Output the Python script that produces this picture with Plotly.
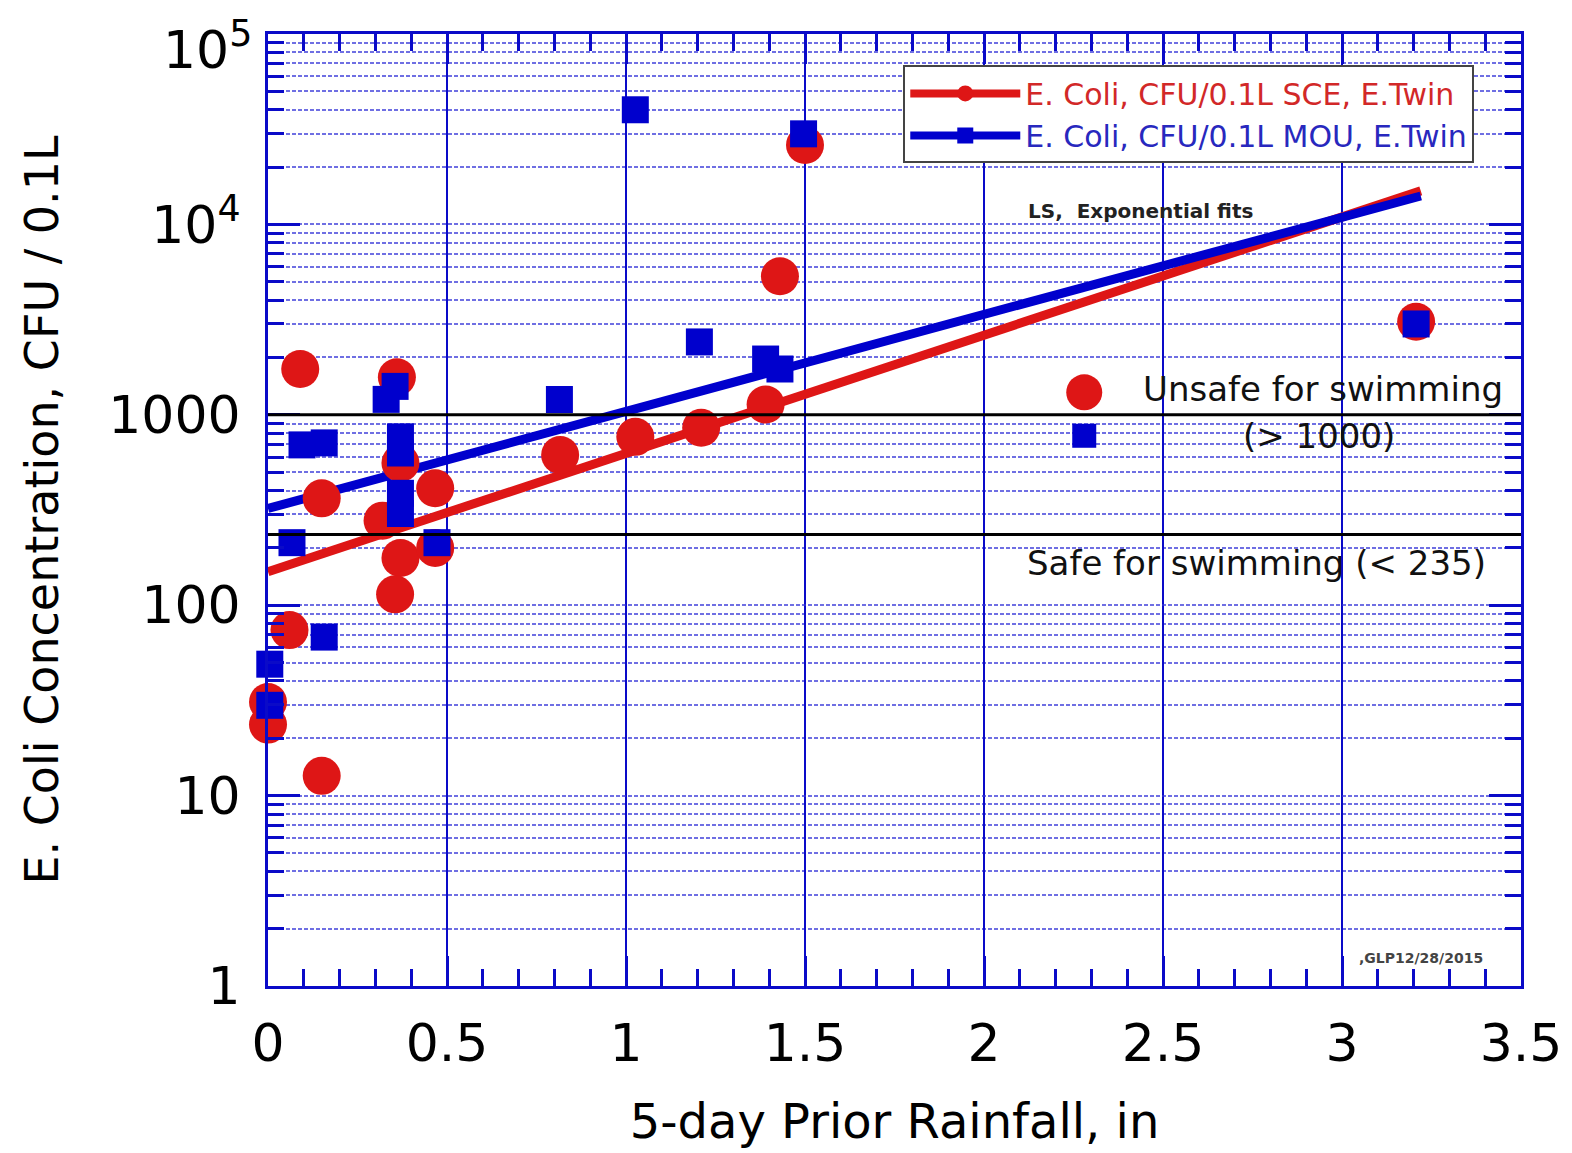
import plotly.graph_objects as go

# ---------------- data ----------------
sce_x = [0.0, 0.0, 0.06, 0.09, 0.15, 0.15, 0.36, 0.32, 0.37, 0.37, 0.355, 0.467, 0.467,
         0.816, 1.026, 1.21, 1.39, 1.43, 1.50, 3.207]
sce_y = [31, 23.6, 74, 1740, 364, 12.7, 1575, 278, 558, 177, 114, 411, 200,
         615, 766, 855, 1133, 5340, 26100, 3080]

mou_x = [0.005, 0.005, 0.067, 0.095, 0.157, 0.157, 0.33, 0.355, 0.37, 0.37, 0.37, 0.37,
         0.472, 0.814, 1.026, 1.205, 1.39, 1.43, 1.496, 3.207]
mou_y = [49, 29.8, 213, 695, 712, 68, 1205, 1410, 766, 630, 387, 303,
         213, 1203, 40000, 2414, 1963, 1740, 29900, 3000]

fit_x = [0.0, 3.22]
sce_fit_y = [150, 15000]
mou_fit_y = [322, 14100]

thresholds = [1000, 235]

key_x = [2.28, 2.28]
key_y = [1312, 776]

y_major = [1, 10, 100, 1000, 10000, 100000]
y_major_text = ["1", "10", "100", "1000", "10<sup>4</sup>", ""]
y_top_label = "10<sup>5</sup>"
y_minor = [m * d for d in [1, 10, 100, 1000, 10000] for m in range(2, 10)]

RED = "rgb(222,22,22)"
BLUE = "rgb(0,0,205)"
AX = "rgb(10,10,200)"
GRID = "rgba(50,50,215,0.7)"
FONT = "DejaVu Sans"

fig = go.Figure()

fig.add_trace(go.Scatter(x=fit_x, y=sce_fit_y, mode="lines",
                         line=dict(color=RED, width=9), showlegend=False, hoverinfo="skip"))
fig.add_trace(go.Scatter(x=fit_x, y=mou_fit_y, mode="lines",
                         line=dict(color=BLUE, width=9), showlegend=False, hoverinfo="skip"))
fig.add_trace(go.Scatter(x=sce_x, y=sce_y, mode="markers", cliponaxis=False,
                         marker=dict(symbol="circle", size=38, color=RED),
                         showlegend=False))
fig.add_trace(go.Scatter(x=mou_x, y=mou_y, mode="markers", cliponaxis=False,
                         marker=dict(symbol="square", size=27, color=BLUE),
                         showlegend=False))
fig.add_trace(go.Scatter(x=key_x[:1], y=key_y[:1], mode="markers",
                         marker=dict(symbol="circle", size=36, color=RED), showlegend=False))
fig.add_trace(go.Scatter(x=key_x[1:], y=key_y[1:], mode="markers",
                         marker=dict(symbol="square", size=24, color=BLUE), showlegend=False))

# legend entries
fig.add_trace(go.Scatter(x=[None], y=[None], mode="lines+markers",
                         name="<span style='color:rgb(210,40,40)'>E. Coli, CFU/0.1L SCE, E.Twin</span>",
                         line=dict(color=RED, width=8),
                         marker=dict(symbol="circle", size=30, color=RED)))
fig.add_trace(go.Scatter(x=[None], y=[None], mode="lines+markers",
                         name="<span style='color:rgb(40,40,190)'>E. Coli, CFU/0.1L MOU, E.Twin</span>",
                         line=dict(color=BLUE, width=8),
                         marker=dict(symbol="square", size=22, color=BLUE)))

for t in thresholds:
    fig.add_hline(y=t, line=dict(color="black", width=3), layer="above")

fig.add_annotation(xref="paper", x=0, y=5, text=y_top_label, showarrow=False,
                   xanchor="right", yanchor="middle", xshift=-14, yshift=-12,
                   font=dict(family=FONT, size=52, color="black"))
fig.add_annotation(x=2.438, y=4.072, text="<b>LS,  Exponential fits</b>",
                   showarrow=False, font=dict(family=FONT, size=20, color="#222"))
fig.add_annotation(x=2.947, y=3.134, text="Unsafe for swimming",
                   showarrow=False, font=dict(family=FONT, size=34, color="#111"))
fig.add_annotation(x=2.935, y=2.89, text="(> 1000)",
                   showarrow=False, font=dict(family=FONT, size=34, color="#111"))
fig.add_annotation(x=2.76, y=2.222, text="Safe for swimming (< 235)",
                   showarrow=False, font=dict(family=FONT, size=34, color="#111"))
fig.add_annotation(x=3.22, y=0.148, text="<b>,GLP12/28/2015</b>",
                   showarrow=False, font=dict(family=FONT, size=14, color="#444"))

fig.update_layout(
    width=1572, height=1153,
    margin=dict(l=268, r=51, t=34, b=167),
    paper_bgcolor="white", plot_bgcolor="white",
    font=dict(family=FONT, color="black"),
    showlegend=True,
    legend=dict(x=0.507, y=0.967, xanchor="left", yanchor="top",
                bgcolor="white", bordercolor="#444", borderwidth=2,
                font=dict(family=FONT, size=30), tracegroupgap=0,
                itemwidth=110),
)

fig.update_xaxes(
    range=[0, 3.5], dtick=0.5, tick0=0, automargin=False,
    showline=True, linecolor=AX, linewidth=3, mirror="allticks",
    ticks="inside", ticklen=30, tickwidth=3, tickcolor=AX,
    showgrid=True, gridcolor=AX, gridwidth=1.5,
    zeroline=False,
    tickfont=dict(family=FONT, size=52),
    ticklabelstandoff=10, ticklabeloverflow="allow",
    minor=dict(dtick=0.1, tick0=0, ticks="inside", ticklen=17, tickwidth=3,
               tickcolor=AX, showgrid=False),
    title=dict(text="5-day Prior Rainfall, in", font=dict(family=FONT, size=48), standoff=32),
)

fig.update_yaxes(
    type="log", range=[0, 5], automargin=False,
    tickvals=y_major, ticktext=y_major_text,
    showline=True, linecolor=AX, linewidth=3, mirror="allticks",
    ticks="inside", ticklen=32, tickwidth=3, tickcolor=AX,
    showgrid=True, gridcolor=GRID, gridwidth=1.5, griddash="4px,2px",
    zeroline=False,
    tickfont=dict(family=FONT, size=52),
    ticklabelstandoff=14, ticklabeloverflow="allow",
    minor=dict(tickvals=y_minor, ticks="inside", ticklen=16, tickwidth=3,
               tickcolor=AX, showgrid=True, gridcolor=GRID,
               gridwidth=1.5, griddash="4px,2px"),
    title=dict(text="E. Coli Concentration, CFU / 0.1L", font=dict(family=FONT, size=46), standoff=36),
)

fig.write_html("out.html")
